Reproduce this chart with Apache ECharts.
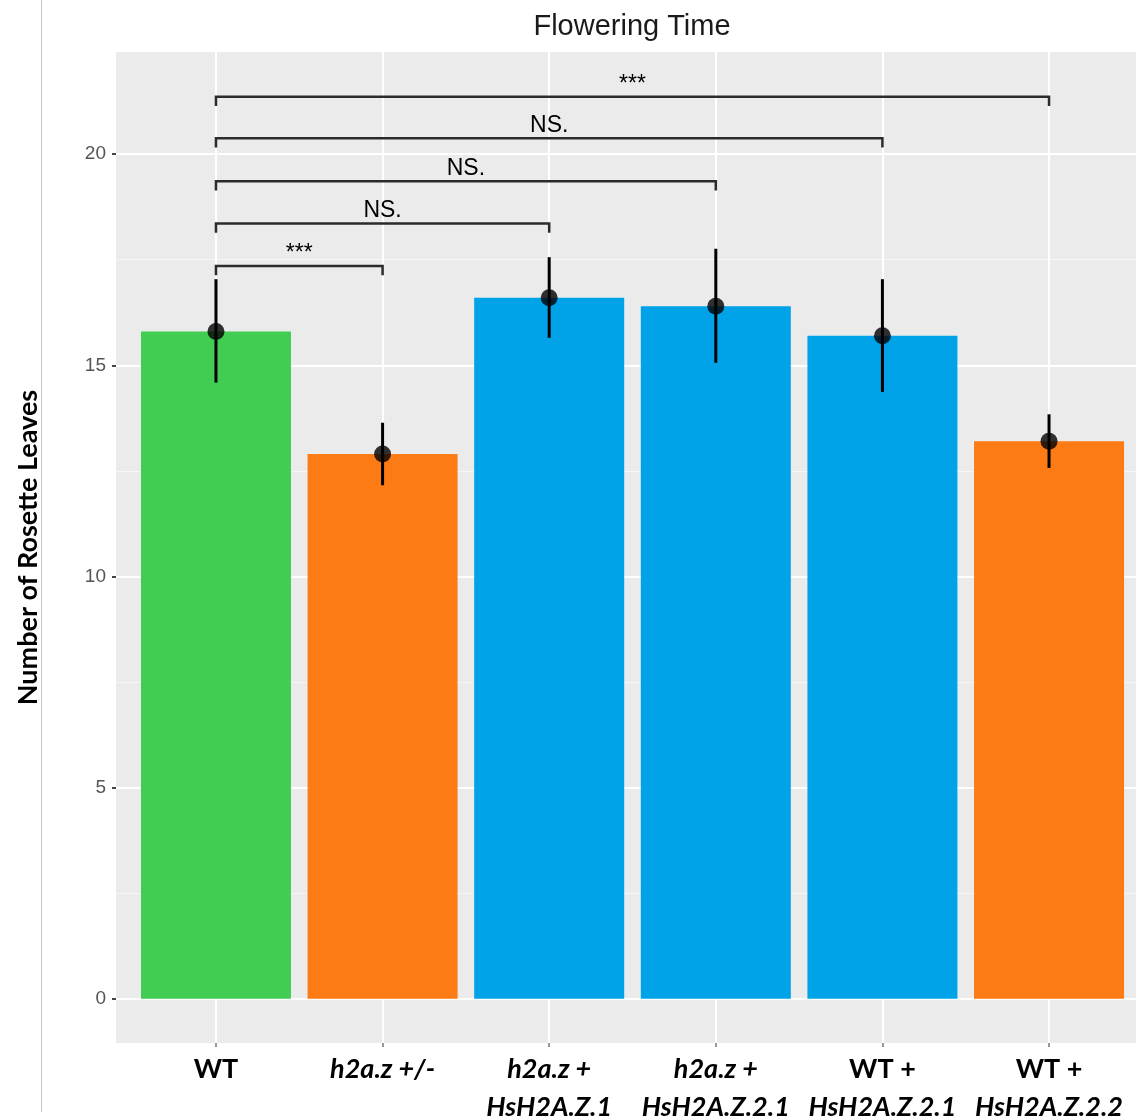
<!DOCTYPE html>
<html>
<head>
<meta charset="utf-8">
<script src="https://cdn.jsdelivr.net/npm/echarts@6/dist/echarts.min.js"></script>
<style>
  html, body { margin: 0; padding: 0; background: #fff; }
  #chart { width: 1136px; height: 1118px; }
</style>
</head>
<body>
<div id="chart"></div>
<script>
// 数据
const categories = ["WT", "h2a.z +/-", "h2a.z +\nHsH2A.Z.1", "h2a.z +\nHsH2A.Z.2.1", "WT +\nHsH2A.Z.2.1", "WT +\nHsH2A.Z.2.2"];
const means = [15.8, 12.9, 16.6, 16.4, 15.7, 13.2];
const errLow = [14.59, 12.16, 15.65, 15.06, 14.37, 12.57];
const errHigh = [17.04, 13.64, 17.56, 17.76, 17.04, 13.84];
const barColors = ["#41CD52", "#FC7B14", "#01A3E8", "#01A3E8", "#01A3E8", "#FC7B14"];

// 显著性标注
const bracketStart = [0, 0, 0, 0, 0];
const bracketEnd = [1, 2, 3, 4, 5];
const bracketY = [17.35, 18.36, 19.36, 20.38, 21.36];
const bracketLabels = ["***", "NS.", "NS.", "NS.", "***"];
const bracketTick = 0.22;

const yMajor = [0, 5, 10, 15, 20];
const yMinor = [2.5, 7.5, 12.5, 17.5];
const xTicks = [0, 1, 2, 3, 4, 5];

const chart = echarts.init(document.getElementById("chart"));

const option = {
  animation: false,
  title: {
    text: "Flowering Time",
    left: 627,
    top: 7,
    textAlign: "center",
    textStyle: {
      fontFamily: "Liberation Sans",
      fontSize: 29,
      fontWeight: "normal",
      color: "#1a1a1a",
    },
  },
  graphic: [
    {
      type: "line",
      shape: { x1: 41.5, y1: 0, x2: 41.5, y2: 1112 },
      style: { stroke: "#c8c8c8", lineWidth: 1 },
    },
  ],
  grid: {
    left: 116,
    right: -13,
    top: 52,
    bottom: 75,
    outerBoundsMode: "none",
    containLabel: false,
    show: true,
    backgroundColor: "#EBEBEB",
    borderWidth: 0,
  },
  xAxis: {
    type: "value",
    min: -0.6,
    max: 5.6,
    axisLine: { show: false, onZero: false },
    axisTick: {
      show: true,
      length: 4,
      customValues: xTicks,
      lineStyle: { color: "#777", width: 1.5 },
    },
    axisLabel: {
      customValues: xTicks,
      margin: 7,
      formatter: (v) => {
        const lines = categories[Math.round(v)].split("\n");
        return lines.map((l) => (l.startsWith("WT") ? "{u|" + l + "}" : "{i|" + l + "}")).join("\n");
      },
      rich: {
        u: { fontFamily: "Lato", fontWeight: "bold", fontSize: 27, color: "#000", lineHeight: 38 },
        i: { fontFamily: "Lato", fontWeight: "bold", fontStyle: "italic", fontSize: 27, color: "#000", lineHeight: 38 },
      },
    },
    splitLine: { show: true, lineStyle: { color: "#ffffff", width: 2 } },
  },
  yAxis: [
    {
      type: "value",
      min: -1.05,
      max: 22.42,
      name: "Number of Rosette Leaves",
      nameLocation: "middle",
      nameGap: 74,
      nameTextStyle: { fontFamily: "Lato", fontWeight: "bold", fontSize: 27, color: "#000" },
      axisLine: { show: false, onZero: false },
      axisTick: {
        show: true,
        length: 4,
        customValues: yMajor,
        lineStyle: { color: "#444", width: 2 },
      },
      axisLabel: {
        customValues: yMajor,
        margin: 10,
        fontFamily: "Liberation Sans",
        fontSize: 19,
        color: "#555",
      },
      splitLine: { show: true, lineStyle: { color: "#ffffff", width: 2 } },
    },
    {
      type: "value",
      min: -1.05,
      max: 22.42,
      axisLine: { show: false, onZero: false },
      axisTick: { show: false, customValues: yMinor },
      axisLabel: { show: false, customValues: yMinor },
      splitLine: { show: true, lineStyle: { color: "#f6f6f6", width: 1 } },
    },
  ],
  series: [
    {
      type: "bar",
      z: 2,
      barWidth: 150,
      data: means.map((v, i) => ({ value: [i, v], itemStyle: { color: barColors[i] } })),
    },
    {
      type: "custom",
      z: 5,
      renderItem: (params, api) => {
        const x = api.value(0);
        const lo = api.coord([x, api.value(1)]);
        const hi = api.coord([x, api.value(2)]);
        return {
          type: "line",
          shape: { x1: lo[0], y1: lo[1], x2: hi[0], y2: hi[1] },
          style: { stroke: "#000", lineWidth: 3 },
        };
      },
      encode: { x: 0, y: [1, 2] },
      data: errLow.map((lo, i) => [i, lo, errHigh[i]]),
    },
    {
      type: "scatter",
      z: 6,
      symbol: "circle",
      symbolSize: 17,
      itemStyle: { color: "#000" },
      data: means.map((v, i) => [i, v]),
    },
    {
      type: "custom",
      z: 7,
      renderItem: (params, api) => {
        const s = api.value(0);
        const e = api.value(1);
        const y = api.value(2);
        const p1 = api.coord([s, y - bracketTick]);
        const p2 = api.coord([s, y]);
        const p3 = api.coord([e, y]);
        const p4 = api.coord([e, y - bracketTick]);
        return {
          type: "group",
          children: [
            {
              type: "polyline",
              shape: { points: [p1, p2, p3, p4] },
              style: { stroke: "#2b2b2b", lineWidth: 2.5, fill: null },
            },
            {
              type: "text",
              x: (p2[0] + p3[0]) / 2,
              y: p2[1] - 1,
              style: {
                text: bracketLabels[params.dataIndex],
                align: "center",
                verticalAlign: "bottom",
                fontFamily: "Liberation Sans",
                fontSize: 23,
                fill: "#000",
              },
            },
          ],
        };
      },
      encode: { x: [0, 1], y: 2 },
      data: bracketStart.map((s, i) => [s, bracketEnd[i], bracketY[i]]),
    },
  ],
};

chart.setOption(option);
</script>
</body>
</html>
